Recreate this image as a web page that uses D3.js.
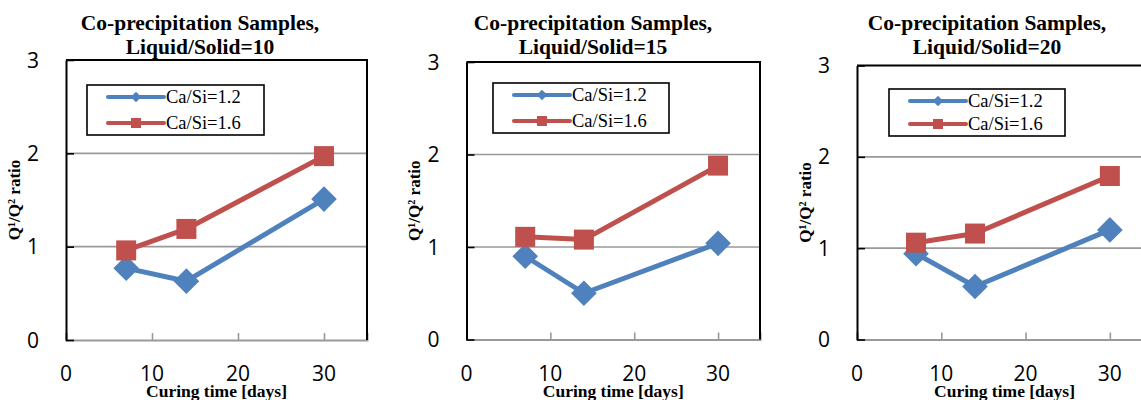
<!DOCTYPE html>
<html>
<head>
<meta charset="utf-8">
<script src="https://cdn.jsdelivr.net/npm/d3@7"></script>
<style>
  html, body { margin: 0; padding: 0; background: #fff; }
  svg { display: block; }
</style>
</head>
<body>
<svg id="chart" width="1141" height="400"></svg>
<script>
// Curing times (days) shared by all panels
const days = [7, 14, 30];
const seriesNames = ["Ca/Si=1.2", "Ca/Si=1.6"];
const seriesColors = ["#4F81BD", "#C0504D"];

// Q1/Q2 ratio per liquid/solid ratio
const ls10_ca12 = [0.77, 0.63, 1.51];
const ls10_ca16 = [0.96, 1.19, 1.97];
const ls15_ca12 = [0.90, 0.50, 1.04];
const ls15_ca16 = [1.11, 1.08, 1.88];
const ls20_ca12 = [0.94, 0.58, 1.20];
const ls20_ca16 = [1.06, 1.16, 1.79];

const panelTitles = ["Liquid/Solid=10", "Liquid/Solid=15", "Liquid/Solid=20"];
const titleLine1 = "Co-precipitation Samples,";
const xTicks = [0, 10, 20, 30];
const yTicks = [0, 1, 2, 3];
const xTitle = "Curing time [days]";
const yTitle = "Q\u00B9/Q\u00B2 ratio";

const panelData = [
  [ls10_ca12, ls10_ca16],
  [ls15_ca12, ls15_ca16],
  [ls20_ca12, ls20_ca16]
];

// Plot-area geometry of each panel
const layout = [
  { left: 66,    right: 367,  top: 60,   bottom: 340,   titleX: 200, legend: { x: 87,  y: 85, w: 177, h: 50 } },
  { left: 466.5, right: 760,  top: 62,   bottom: 339.5, titleX: 593, legend: { x: 493, y: 83, w: 176, h: 50 } },
  { left: 857,   right: 1152, top: 65.5, bottom: 339.5, titleX: 987, legend: { x: 889, y: 89, w: 176, h: 47 } }
];

const svg = d3.select("#chart");
const serif = "'Liberation Serif', 'Times New Roman', serif";
const sans = "'Open Sans', sans-serif";

const diamond = d3.symbol().type(d3.symbolDiamond2);

layout.forEach((L, pi) => {
  const g = svg.append("g");
  const x = d3.scaleLinear().domain([0, 35]).range([L.left, L.right]);
  const y = d3.scaleLinear().domain([0, 3]).range([L.bottom, L.top]);

  // horizontal gridlines
  g.selectAll(".grid").data([1, 2]).join("line")
    .attr("x1", L.left).attr("x2", L.right)
    .attr("y1", d => y(d)).attr("y2", d => y(d))
    .attr("stroke", "#999").attr("stroke-width", 1.6);

  // x axis (gray) with inward ticks
  const xAxis = d3.axisBottom(x).tickValues(xTicks).tickSize(-7).tickFormat("");
  const xa = g.append("g").attr("transform", `translate(0,${L.bottom})`).call(xAxis);
  xa.select(".domain").attr("stroke", "#999").attr("stroke-width", 2);
  xa.selectAll(".tick line").attr("stroke", "#999").attr("stroke-width", 1.6);

  // frame: top and right borders
  g.append("path")
    .attr("d", `M${L.left},${L.top}H${L.right}V${L.bottom}`)
    .attr("fill", "none").attr("stroke", "#000").attr("stroke-width", 2);

  // y axis (black) with inward ticks
  const yAxis = d3.axisLeft(y).tickValues(yTicks).tickSize(-8).tickSizeOuter(0).tickFormat("");
  const ya = g.append("g").attr("transform", `translate(${L.left},0)`).call(yAxis);
  ya.select(".domain").attr("stroke", "#000").attr("stroke-width", 2);
  ya.selectAll(".tick line").attr("stroke", "#000").attr("stroke-width", 1.6);

  // tick labels
  g.selectAll(".ytl").data(yTicks).join("text")
    .attr("x", L.left - 33).attr("y", d => y(d) + 7.5)
    .attr("text-anchor", "middle")
    .attr("font-family", sans).attr("font-size", 21).attr("fill", "#000")
    .text(d => d);
  g.selectAll(".xtl").data(xTicks).join("text")
    .attr("x", d => x(d)).attr("y", 381)
    .attr("text-anchor", "middle")
    .attr("font-family", sans).attr("font-size", 21).attr("fill", "#000")
    .text(d => d);

  // axis titles
  g.append("text")
    .attr("x", (L.left + L.right) / 2).attr("y", 396.5)
    .attr("text-anchor", "middle")
    .attr("font-family", serif).attr("font-weight", "bold").attr("font-size", 17.5)
    .text(xTitle);
  const yMid = (L.top + L.bottom) / 2;
  const yTx = L.left - 52;
  g.append("text")
    .attr("transform", `translate(${yTx},${yMid}) rotate(-90)`)
    .attr("text-anchor", "middle").attr("dy", "0.35em")
    .attr("font-family", serif).attr("font-weight", "bold").attr("font-size", 17)
    .text(yTitle);

  // panel title
  const t = g.append("text")
    .attr("text-anchor", "middle")
    .attr("font-family", serif).attr("font-weight", "bold").attr("font-size", 21.5);
  t.append("tspan").attr("x", L.titleX).attr("y", 30).text(titleLine1);
  t.append("tspan").attr("x", L.titleX).attr("y", 54).text(panelTitles[pi]);

  // series lines and markers
  panelData[pi].forEach((vals, si) => {
    const pts = days.map((d, i) => [x(d), y(vals[i])]);
    g.append("path")
      .attr("d", d3.line()(pts))
      .attr("fill", "none").attr("stroke", seriesColors[si])
      .attr("stroke-width", 5).attr("stroke-linejoin", "round");
    if (si === 0) {
      g.selectAll(null).data(pts).join("path")
        .attr("transform", d => `translate(${d[0]},${d[1]})`)
        .attr("d", diamond.size(420)())
        .attr("fill", seriesColors[si]);
    } else {
      g.selectAll(null).data(pts).join("rect")
        .attr("x", d => d[0] - 10).attr("y", d => d[1] - 10)
        .attr("width", 20).attr("height", 20)
        .attr("fill", seriesColors[si]);
    }
  });

  // legend
  const lg = L.legend;
  g.append("rect")
    .attr("x", lg.x).attr("y", lg.y).attr("width", lg.w).attr("height", lg.h)
    .attr("fill", "#fff").attr("stroke", "#000").attr("stroke-width", 1.6);
  seriesNames.forEach((name, si) => {
    const ry = lg.y + 12 + si * (lg.h - 24);
    const x0 = lg.x + 21, x1 = lg.x + 77;
    g.append("line")
      .attr("x1", x0).attr("x2", x1).attr("y1", ry).attr("y2", ry)
      .attr("stroke", seriesColors[si]).attr("stroke-width", 4).attr("stroke-linecap", "round");
    if (si === 0) {
      g.append("path")
        .attr("transform", `translate(${(x0 + x1) / 2},${ry})`)
        .attr("d", diamond.size(70)())
        .attr("fill", seriesColors[si]);
    } else {
      g.append("rect")
        .attr("x", (x0 + x1) / 2 - 5).attr("y", ry - 5).attr("width", 10).attr("height", 10)
        .attr("fill", seriesColors[si]);
    }
    g.append("text")
      .attr("x", x1 + 2).attr("y", ry + 6)
      .attr("font-family", serif).attr("font-size", 18.5).attr("fill", "#000")
      .text(name);
  });
});
</script>
</body>
</html>
